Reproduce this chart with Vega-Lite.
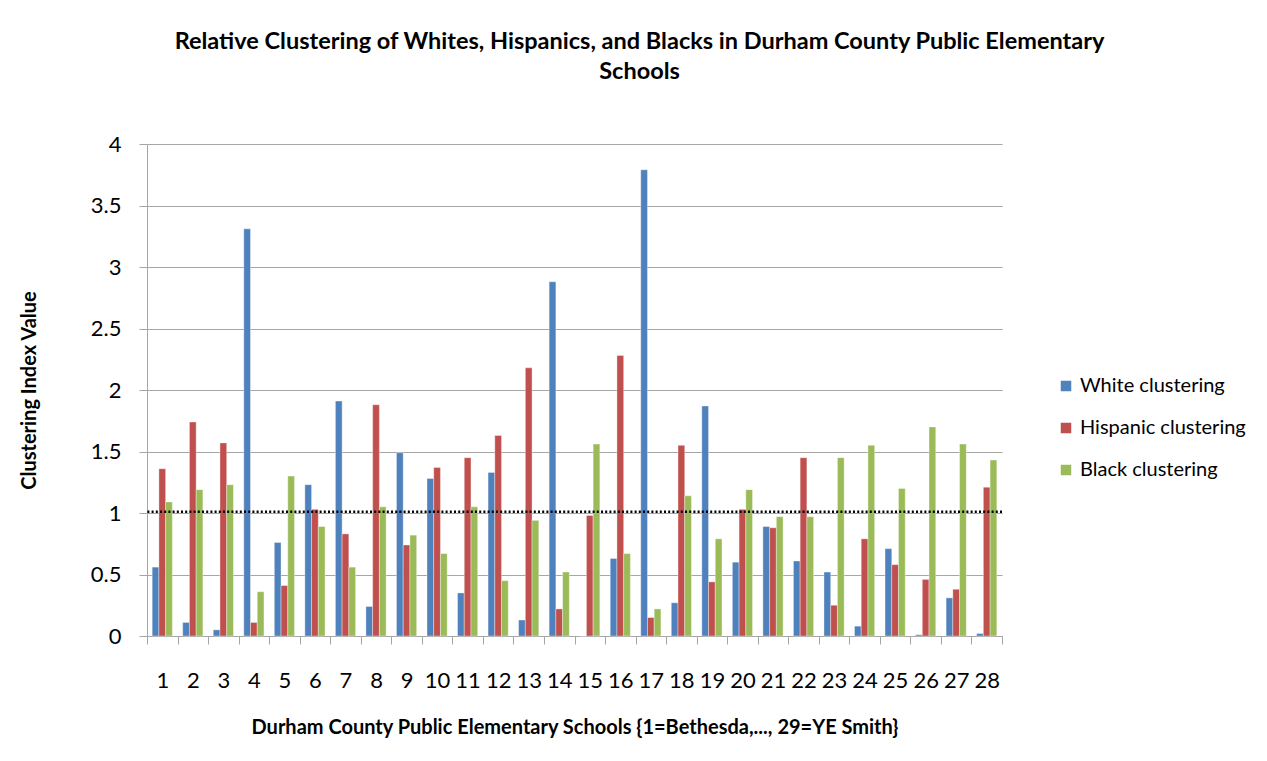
{
  "$schema": "https://vega.github.io/schema/vega-lite/v6.json",
  "autosize": "none",
  "width": 855,
  "height": 492,
  "padding": {"left": 147, "top": 144, "right": 265, "bottom": 125},
  "background": "white",
  "config": {
    "font": "Lato",
    "view": {"stroke": null},
    "axis": {"labelColor": "#000000", "titleColor": "#000000", "labelFont": "Lato", "titleFont": "Lato"},
    "legend": {"labelFont": "Lato", "labelColor": "#000000"}
  },
  "title": {
    "text": ["Relative Clustering of Whites, Hispanics, and Blacks in Durham County Public Elementary", "Schools"],
    "font": "Lato",
    "fontSize": 23.5,
    "fontWeight": "bold",
    "color": "#000000",
    "anchor": "middle",
    "frame": "group",
    "dx": 65,
    "lineHeight": 30,
    "offset": 50
  },
  "datasets": {
    "clustering": [
      {"school": 1, "series": "White clustering", "value": 0.56},
      {"school": 1, "series": "Hispanic clustering", "value": 1.36},
      {"school": 1, "series": "Black clustering", "value": 1.09},
      {"school": 2, "series": "White clustering", "value": 0.11},
      {"school": 2, "series": "Hispanic clustering", "value": 1.74},
      {"school": 2, "series": "Black clustering", "value": 1.19},
      {"school": 3, "series": "White clustering", "value": 0.05},
      {"school": 3, "series": "Hispanic clustering", "value": 1.57},
      {"school": 3, "series": "Black clustering", "value": 1.23},
      {"school": 4, "series": "White clustering", "value": 3.31},
      {"school": 4, "series": "Hispanic clustering", "value": 0.11},
      {"school": 4, "series": "Black clustering", "value": 0.36},
      {"school": 5, "series": "White clustering", "value": 0.76},
      {"school": 5, "series": "Hispanic clustering", "value": 0.41},
      {"school": 5, "series": "Black clustering", "value": 1.3},
      {"school": 6, "series": "White clustering", "value": 1.23},
      {"school": 6, "series": "Hispanic clustering", "value": 1.03},
      {"school": 6, "series": "Black clustering", "value": 0.89},
      {"school": 7, "series": "White clustering", "value": 1.91},
      {"school": 7, "series": "Hispanic clustering", "value": 0.83},
      {"school": 7, "series": "Black clustering", "value": 0.56},
      {"school": 8, "series": "White clustering", "value": 0.24},
      {"school": 8, "series": "Hispanic clustering", "value": 1.88},
      {"school": 8, "series": "Black clustering", "value": 1.05},
      {"school": 9, "series": "White clustering", "value": 1.49},
      {"school": 9, "series": "Hispanic clustering", "value": 0.74},
      {"school": 9, "series": "Black clustering", "value": 0.82},
      {"school": 10, "series": "White clustering", "value": 1.28},
      {"school": 10, "series": "Hispanic clustering", "value": 1.37},
      {"school": 10, "series": "Black clustering", "value": 0.67},
      {"school": 11, "series": "White clustering", "value": 0.35},
      {"school": 11, "series": "Hispanic clustering", "value": 1.45},
      {"school": 11, "series": "Black clustering", "value": 1.05},
      {"school": 12, "series": "White clustering", "value": 1.33},
      {"school": 12, "series": "Hispanic clustering", "value": 1.63},
      {"school": 12, "series": "Black clustering", "value": 0.45},
      {"school": 13, "series": "White clustering", "value": 0.13},
      {"school": 13, "series": "Hispanic clustering", "value": 2.18},
      {"school": 13, "series": "Black clustering", "value": 0.94},
      {"school": 14, "series": "White clustering", "value": 2.88},
      {"school": 14, "series": "Hispanic clustering", "value": 0.22},
      {"school": 14, "series": "Black clustering", "value": 0.52},
      {"school": 15, "series": "White clustering", "value": 0},
      {"school": 15, "series": "Hispanic clustering", "value": 0.98},
      {"school": 15, "series": "Black clustering", "value": 1.56},
      {"school": 16, "series": "White clustering", "value": 0.63},
      {"school": 16, "series": "Hispanic clustering", "value": 2.28},
      {"school": 16, "series": "Black clustering", "value": 0.67},
      {"school": 17, "series": "White clustering", "value": 3.79},
      {"school": 17, "series": "Hispanic clustering", "value": 0.15},
      {"school": 17, "series": "Black clustering", "value": 0.22},
      {"school": 18, "series": "White clustering", "value": 0.27},
      {"school": 18, "series": "Hispanic clustering", "value": 1.55},
      {"school": 18, "series": "Black clustering", "value": 1.14},
      {"school": 19, "series": "White clustering", "value": 1.87},
      {"school": 19, "series": "Hispanic clustering", "value": 0.44},
      {"school": 19, "series": "Black clustering", "value": 0.79},
      {"school": 20, "series": "White clustering", "value": 0.6},
      {"school": 20, "series": "Hispanic clustering", "value": 1.03},
      {"school": 20, "series": "Black clustering", "value": 1.19},
      {"school": 21, "series": "White clustering", "value": 0.89},
      {"school": 21, "series": "Hispanic clustering", "value": 0.88},
      {"school": 21, "series": "Black clustering", "value": 0.97},
      {"school": 22, "series": "White clustering", "value": 0.61},
      {"school": 22, "series": "Hispanic clustering", "value": 1.45},
      {"school": 22, "series": "Black clustering", "value": 0.97},
      {"school": 23, "series": "White clustering", "value": 0.52},
      {"school": 23, "series": "Hispanic clustering", "value": 0.25},
      {"school": 23, "series": "Black clustering", "value": 1.45},
      {"school": 24, "series": "White clustering", "value": 0.08},
      {"school": 24, "series": "Hispanic clustering", "value": 0.79},
      {"school": 24, "series": "Black clustering", "value": 1.55},
      {"school": 25, "series": "White clustering", "value": 0.71},
      {"school": 25, "series": "Hispanic clustering", "value": 0.58},
      {"school": 25, "series": "Black clustering", "value": 1.2},
      {"school": 26, "series": "White clustering", "value": 0.01},
      {"school": 26, "series": "Hispanic clustering", "value": 0.46},
      {"school": 26, "series": "Black clustering", "value": 1.7},
      {"school": 27, "series": "White clustering", "value": 0.31},
      {"school": 27, "series": "Hispanic clustering", "value": 0.38},
      {"school": 27, "series": "Black clustering", "value": 1.56},
      {"school": 28, "series": "White clustering", "value": 0.02},
      {"school": 28, "series": "Hispanic clustering", "value": 1.21},
      {"school": 28, "series": "Black clustering", "value": 1.43}
    ],
    "reference": [{"level": 1.01}]
  },
  "layer": [
    {
      "data": {"name": "clustering"},
      "mark": {"type": "bar", "stroke": "white", "strokeWidth": 0.6, "strokeOpacity": 0.6},
      "encoding": {
        "x": {
          "field": "school",
          "type": "ordinal",
          "scale": {"paddingInner": 0, "paddingOuter": 0},
          "axis": {
            "title": "Durham County Public Elementary Schools {1=Bethesda,..., 29=YE Smith}",
            "titleFontSize": 20,
            "titleFontWeight": "bold",
            "titlePadding": 26,
            "labelFontSize": 22,
            "labelAngle": 0,
            "labelPadding": 26,
            "labelOverlap": false,
            "labelFlush": false,
            "tickBand": "extent",
            "tickSize": 8,
            "tickColor": "#a6a6a6",
            "domainColor": "#a6a6a6",
            "grid": false
          }
        },
        "xOffset": {
          "field": "series",
          "type": "nominal",
          "sort": ["White clustering", "Hispanic clustering", "Black clustering"],
          "scale": {"paddingInner": 0, "paddingOuter": 0.77}
        },
        "y": {
          "field": "value",
          "type": "quantitative",
          "scale": {"domain": [0, 4], "nice": false},
          "axis": {
            "title": "Clustering Index Value",
            "titleFontSize": 20,
            "titleFontWeight": "bold",
            "titlePadding": 51,
            "values": [0, 0.5, 1, 1.5, 2, 2.5, 3, 3.5, 4],
            "format": "~g",
            "labelFontSize": 22,
            "labelPadding": 18,
            "tickSize": 8,
            "tickColor": "#a6a6a6",
            "domainColor": "#a6a6a6",
            "gridColor": "#a6a6a6",
            "gridWidth": 1.2
          }
        },
        "color": {
          "field": "series",
          "type": "nominal",
          "scale": {
            "domain": ["White clustering", "Hispanic clustering", "Black clustering"],
            "range": ["#4f81bd", "#c0504d", "#9bbb59"]
          },
          "legend": {
            "title": null,
            "orient": "none",
            "legendX": 909,
            "legendY": 232,
            "symbolType": "square",
            "symbolSize": 110,
            "symbolStrokeWidth": 0,
            "labelFontSize": 20,
            "labelOffset": 4,
            "labelLimit": 300,
            "rowPadding": 22
          }
        }
      }
    },
    {
      "data": {"name": "reference"},
      "mark": {"type": "rule", "color": "#000000", "strokeWidth": 2.5, "strokeDash": [2, 2.2]},
      "encoding": {
        "y": {"field": "level", "type": "quantitative"}
      }
    }
  ]
}
